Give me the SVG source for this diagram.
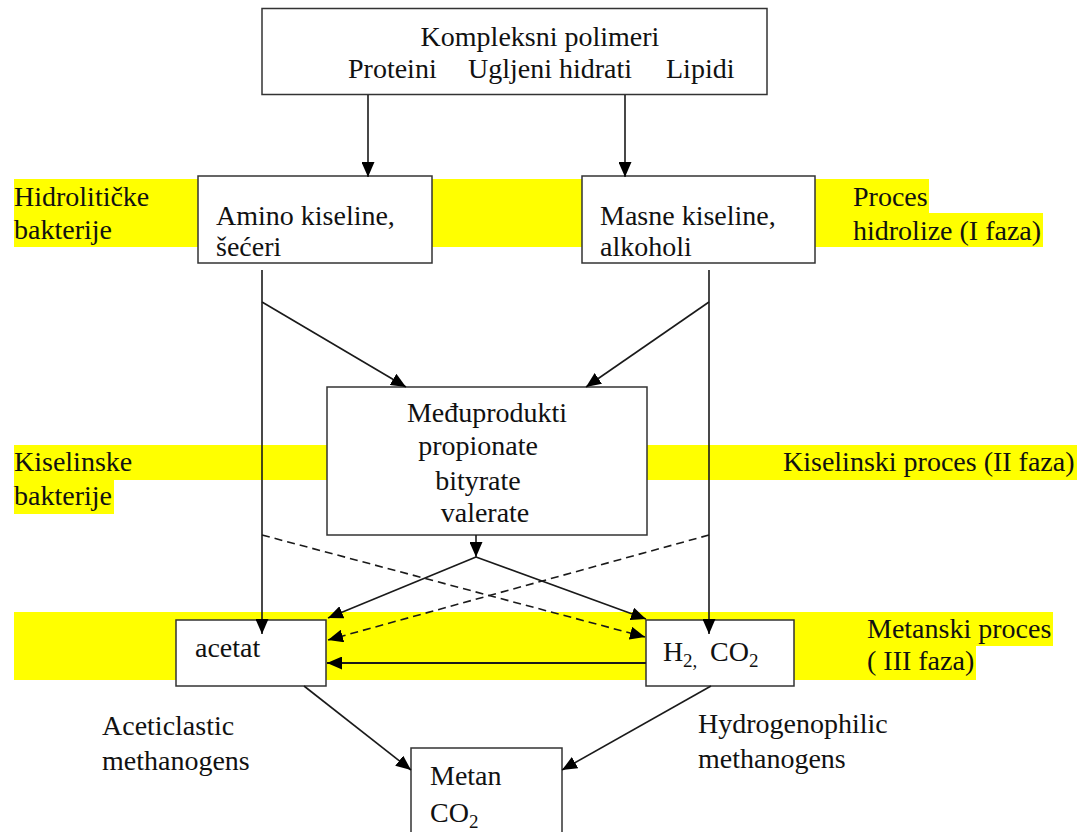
<svg xmlns="http://www.w3.org/2000/svg" width="1083" height="832" viewBox="0 0 1083 832">
<defs>
<style>
text{font-family:"Liberation Serif","Times New Roman",serif;font-size:28px;fill:#111}
.sub{font-size:19px}
.band{fill:#ffff00}
.box{fill:#fff;stroke:#333;stroke-width:1.5}
.ln{fill:none;stroke:#1a1a1a;stroke-width:1.6}
.dash{stroke-dasharray:8 5}
</style>
<marker id="ah" markerUnits="userSpaceOnUse" markerWidth="15" markerHeight="13" viewBox="0 0 15 13" refX="15" refY="6.5" orient="auto">
<path d="M0,0 L15,6.5 L0,13 z" fill="#000"/>
</marker>
</defs>
<rect width="1083" height="832" fill="#fff"/>
<g id="bands">
<rect class="band" x="14" y="179" width="839" height="68"/>
<rect class="band" x="853" y="179" width="76" height="34"/>
<rect class="band" x="853" y="213" width="190" height="34"/>
<rect class="band" x="14" y="445" width="1063" height="35"/>
<rect class="band" x="14" y="480" width="100" height="34"/>
<rect class="band" x="14" y="612" width="962" height="68"/>
<rect class="band" x="976" y="612" width="77" height="34"/>
</g>
<g id="labels">
<text x="14" y="206">Hidrolitičke</text>
<text x="14" y="239">bakterije</text>
<text x="853" y="206">Proces</text>
<text x="853" y="240">hidrolize (I faza)</text>
<text x="14" y="471">Kiselinske</text>
<text x="14" y="505">bakterije</text>
<text x="783" y="471">Kiselinski proces (II faza)</text>
<text x="867" y="638">Metanski proces</text>
<text x="867" y="670">( III faza)</text>
<text x="102" y="735">Aceticlastic</text>
<text x="102" y="770">methanogens</text>
<text x="698" y="733">Hydrogenophilic</text>
<text x="698" y="768">methanogens</text>
</g>
<g id="n-polimeri">
<rect class="box" x="262" y="8.5" width="505" height="86"/>
<text x="540" y="46" text-anchor="middle">Kompleksni polimeri</text>
<text x="348" y="78">Proteini</text>
<text x="468" y="78">Ugljeni hidrati</text>
<text x="666" y="78">Lipidi</text>
</g>
<g id="n-amino">
<rect class="box" x="198" y="176" width="234" height="87"/>
<text x="216" y="225">Amino kiseline,</text>
<text x="216" y="256">šećeri</text>
</g>
<g id="n-masne">
<rect class="box" x="582" y="176" width="233" height="87"/>
<text x="600" y="225">Masne kiseline,</text>
<text x="600" y="256">alkoholi</text>
</g>
<g id="n-medju">
<rect class="box" x="327" y="387" width="320" height="148"/>
<text x="487" y="422" text-anchor="middle">Međuprodukti</text>
<text x="478" y="455" text-anchor="middle">propionate</text>
<text x="478" y="490" text-anchor="middle">bityrate</text>
<text x="485" y="522" text-anchor="middle">valerate</text>
</g>
<g id="n-acetat">
<rect class="box" x="176" y="620" width="150" height="66"/>
<text x="195" y="657">acetat</text>
</g>
<g id="n-h2co2">
<rect class="box" x="646" y="620" width="148" height="66"/>
<text x="663" y="661">H</text>
<text class="sub" x="683" y="667">2,</text>
<text x="710" y="661">CO</text>
<text class="sub" x="749" y="667">2</text>
</g>
<g id="n-metan">
<rect class="box" x="411" y="748" width="151" height="100"/>
<text x="430" y="785">Metan</text>
<text x="430" y="822">CO</text>
<text class="sub" x="469" y="828">2</text>
</g>
<g id="connectors">
<line class="ln" x1="368" y1="95" x2="368" y2="177" marker-end="url(#ah)"/>
<line class="ln" x1="625" y1="95" x2="625" y2="177" marker-end="url(#ah)"/>
<line class="ln" x1="262" y1="270" x2="262" y2="634" marker-end="url(#ah)"/>
<line class="ln" x1="709" y1="270" x2="709" y2="634" marker-end="url(#ah)"/>
<line class="ln" x1="262" y1="302" x2="406" y2="387" marker-end="url(#ah)"/>
<line class="ln" x1="709" y1="302" x2="586" y2="387" marker-end="url(#ah)"/>
<line class="ln" x1="476" y1="535" x2="476" y2="557" marker-end="url(#ah)"/>
<line class="ln" x1="476" y1="557" x2="328" y2="618" marker-end="url(#ah)"/>
<line class="ln" x1="476" y1="557" x2="646" y2="619" marker-end="url(#ah)"/>
<line class="ln dash" x1="262" y1="535" x2="645" y2="637" marker-end="url(#ah)"/>
<line class="ln dash" x1="709" y1="535" x2="328" y2="640" marker-end="url(#ah)"/>
<line class="ln" style="stroke-width:2.2" x1="646" y1="663" x2="327" y2="663" marker-end="url(#ah)"/>
<line class="ln" x1="304" y1="686" x2="411" y2="770" marker-end="url(#ah)"/>
<line class="ln" x1="711" y1="686" x2="562" y2="770" marker-end="url(#ah)"/>
</g>
</svg>
